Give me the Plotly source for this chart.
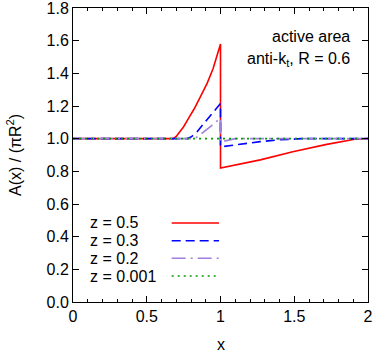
import plotly.graph_objects as go

# values
x_z05 = [0, 0.68, 0.70, 0.72, 0.75, 0.78, 0.82, 0.86, 0.91, 0.95, 0.99, 1.0,
         1.0, 1.1, 1.27, 1.49, 1.72, 1.91, 2.0]
y_z05 = [1, 1, 1.014, 1.036, 1.073, 1.12, 1.18, 1.25, 1.34, 1.43, 1.555, 1.58,
         0.82, 0.837, 0.87, 0.92, 0.965, 0.996, 1.0]
x_z03 = [0, 0.77, 0.80, 0.84, 0.88, 0.94, 0.99, 1.0, 1.0, 1.13, 1.27, 1.4, 1.55, 2.0]
y_z03 = [1, 1, 1.01, 1.04, 1.085, 1.15, 1.205, 1.215, 0.95, 0.967, 0.982, 0.993, 1.0, 1.0]
x_z02 = [0, 0.82, 0.85, 0.88, 0.94, 0.99, 1.0, 1.0, 1.05, 1.1, 2.0]
y_z02 = [1, 1, 1.015, 1.035, 1.08, 1.118, 1.125, 0.98, 0.99, 1.0, 1.0]
x_z0001 = [0, 2.0]
y_z0001 = [1, 1]

labels = ["z = 0.5", "z = 0.3", "z = 0.2", "z = 0.001"]
colors = ["#ff0000", "#0000ff", "#9f7fdf", "#009e00"]
dashes = ["solid", "9px,5px", "14px,5px,2px,5px", "2px,4px"]
series = [(x_z05, y_z05), (x_z03, y_z03), (x_z02, y_z02), (x_z0001, y_z0001)]

x_ticks = [0, 0.5, 1, 1.5, 2]
x_ticktext = ["0", "0.5", "1", "1.5", "2"]
y_ticks = [0, 0.2, 0.4, 0.6, 0.8, 1.0, 1.2, 1.4, 1.6, 1.8]
y_ticktext = ["%.1f" % v for v in y_ticks]

FONT = "Liberation Sans, Arial, sans-serif"
FS = 16

fig = go.Figure()
for (xs, ys), lab, c, d in zip(series, labels, colors, dashes):
    fig.add_trace(go.Scatter(x=xs, y=ys, mode="lines", name=lab,
                             line=dict(color=c, width=1.6, dash=d)))

# key: text on the left, line sample on the right (gnuplot style)
key_y = [0.484, 0.375, 0.268, 0.159]
for lab, c, d, ky in zip(labels, colors, dashes, key_y):
    fig.add_annotation(x=0.102, y=ky, text=lab, showarrow=False, xanchor="left",
                       yanchor="middle", font=dict(size=FS, color="#000000"))
    fig.add_shape(type="line", x0=0.669, x1=0.99, y0=ky, y1=ky, xref="x", yref="y",
                  line=dict(color=c, width=1.6, dash=d))

fig.add_annotation(x=1.892, y=1.623, text="active area", showarrow=False,
                   xanchor="right", yanchor="middle", font=dict(size=FS))
fig.add_annotation(x=1.892, y=1.482, text="anti-k<sub>t</sub>, R = 0.6", showarrow=False,
                   xanchor="right", yanchor="middle", font=dict(size=FS))

# axis titles
fig.add_annotation(x=-0.2, y=0.5, xref="paper", yref="paper", text="A(x) / (πR<sup>2</sup>)",
                   textangle=-90, showarrow=False, xanchor="center", yanchor="middle",
                   font=dict(size=FS))
fig.add_annotation(x=0.5, y=-0.146, xref="paper", yref="paper", text="x",
                   showarrow=False, xanchor="center", yanchor="middle", font=dict(size=FS))

axis_common = dict(showline=True, linecolor="#000000", linewidth=1, mirror="allticks",
                   ticks="inside", tickcolor="#000000", ticklen=6, showgrid=False,
                   zeroline=False, automargin=False, ticklabeloverflow="allow",
                   tickfont=dict(size=FS, color="#000000"))

fig.update_xaxes(range=[0, 2], tickvals=x_ticks, ticktext=x_ticktext,
                 minor=dict(dtick=0.1, ticks="inside", ticklen=3, tickcolor="#000000"),
                 **axis_common)
fig.update_yaxes(range=[0, 1.8], tickvals=y_ticks, ticktext=y_ticktext, **axis_common)

fig.update_layout(width=374, height=352, margin=dict(l=73, r=6, t=8, b=50),
                  showlegend=False, plot_bgcolor="white", paper_bgcolor="white",
                  font=dict(family=FONT, size=FS, color="#000000"))

# drop the default 8px body margin so the figure fills the window exactly
fig.write_html("out.html", config={"displayModeBar": False},
               post_script="document.body.style.margin = '0';")
